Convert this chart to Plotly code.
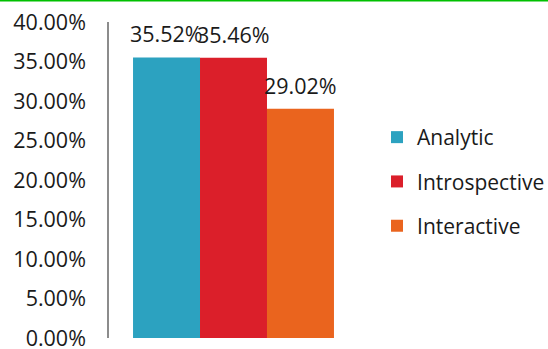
import plotly.graph_objects as go

# Share of each learning style
series_names = ["Analytic", "Introspective", "Interactive"]
series_values = [0.3552, 0.3546, 0.2902]
series_colors = ["#2ca2c0", "#db1f2a", "#ea641e"]
category = ["Learning style"]

FONT = "Open Sans"
FONT_SIZE = 21.5
TEXT_COLOR = "#1a1a1a"
BARGAP = 0.193

fig = go.Figure()
for name, val, col in zip(series_names, series_values, series_colors):
    fig.add_trace(go.Bar(
        x=category, y=[val], name=name, marker_color=col,
        marker_line_width=0, legendgroup=name,
    ))

# Value labels above each bar, placed at the bar centres of the group
n = len(series_names)
bar_w = (1 - BARGAP) / n
annotations = []
for i, val in enumerate(series_values):
    xc = -(1 - BARGAP) / 2 + bar_w * (i + 0.5)
    annotations.append(dict(
        x=xc, y=val, xref="x", yref="y", text=f"{val * 100:.2f}%",
        showarrow=False, yanchor="bottom", yshift=7,
        font=dict(family=FONT, size=FONT_SIZE, color=TEXT_COLOR),
    ))

fig.update_layout(
    width=548, height=349,
    margin=dict(l=109, r=190, t=22, b=11, autoexpand=False),
    paper_bgcolor="white", plot_bgcolor="white",
    barmode="group", bargap=BARGAP, bargroupgap=0,
    font=dict(family=FONT, size=FONT_SIZE, color=TEXT_COLOR),
    showlegend=True,
    legend=dict(
        xref="container", yref="container",
        x=0.688, xanchor="left", y=0.6648, yanchor="top",
        tracegroupgap=14,
        font=dict(family=FONT, size=21, color=TEXT_COLOR),
        itemwidth=30, bgcolor="rgba(0,0,0,0)",
    ),
    annotations=annotations,
    shapes=[dict(
        type="line", xref="paper", yref="paper",
        x0=-1, x1=2, y0=1.0672, y1=1.0672,
        line=dict(color="#00c000", width=1.5),
    )],
)
fig.update_xaxes(
    showticklabels=False, showline=False, showgrid=False, zeroline=False,
    range=[-0.5, 0.5],
)
fig.update_yaxes(
    range=[0, 0.4], dtick=0.05, tickformat=".2%",
    showgrid=False, zeroline=False,
    showline=True, linecolor="#8c8c8c", linewidth=1.5,
    ticks="outside", ticklen=17, tickcolor="rgba(0,0,0,0)",
    ticklabeloverflow="allow",
    tickfont=dict(family=FONT, size=FONT_SIZE, color=TEXT_COLOR),
)

fig.write_html("out.html")
